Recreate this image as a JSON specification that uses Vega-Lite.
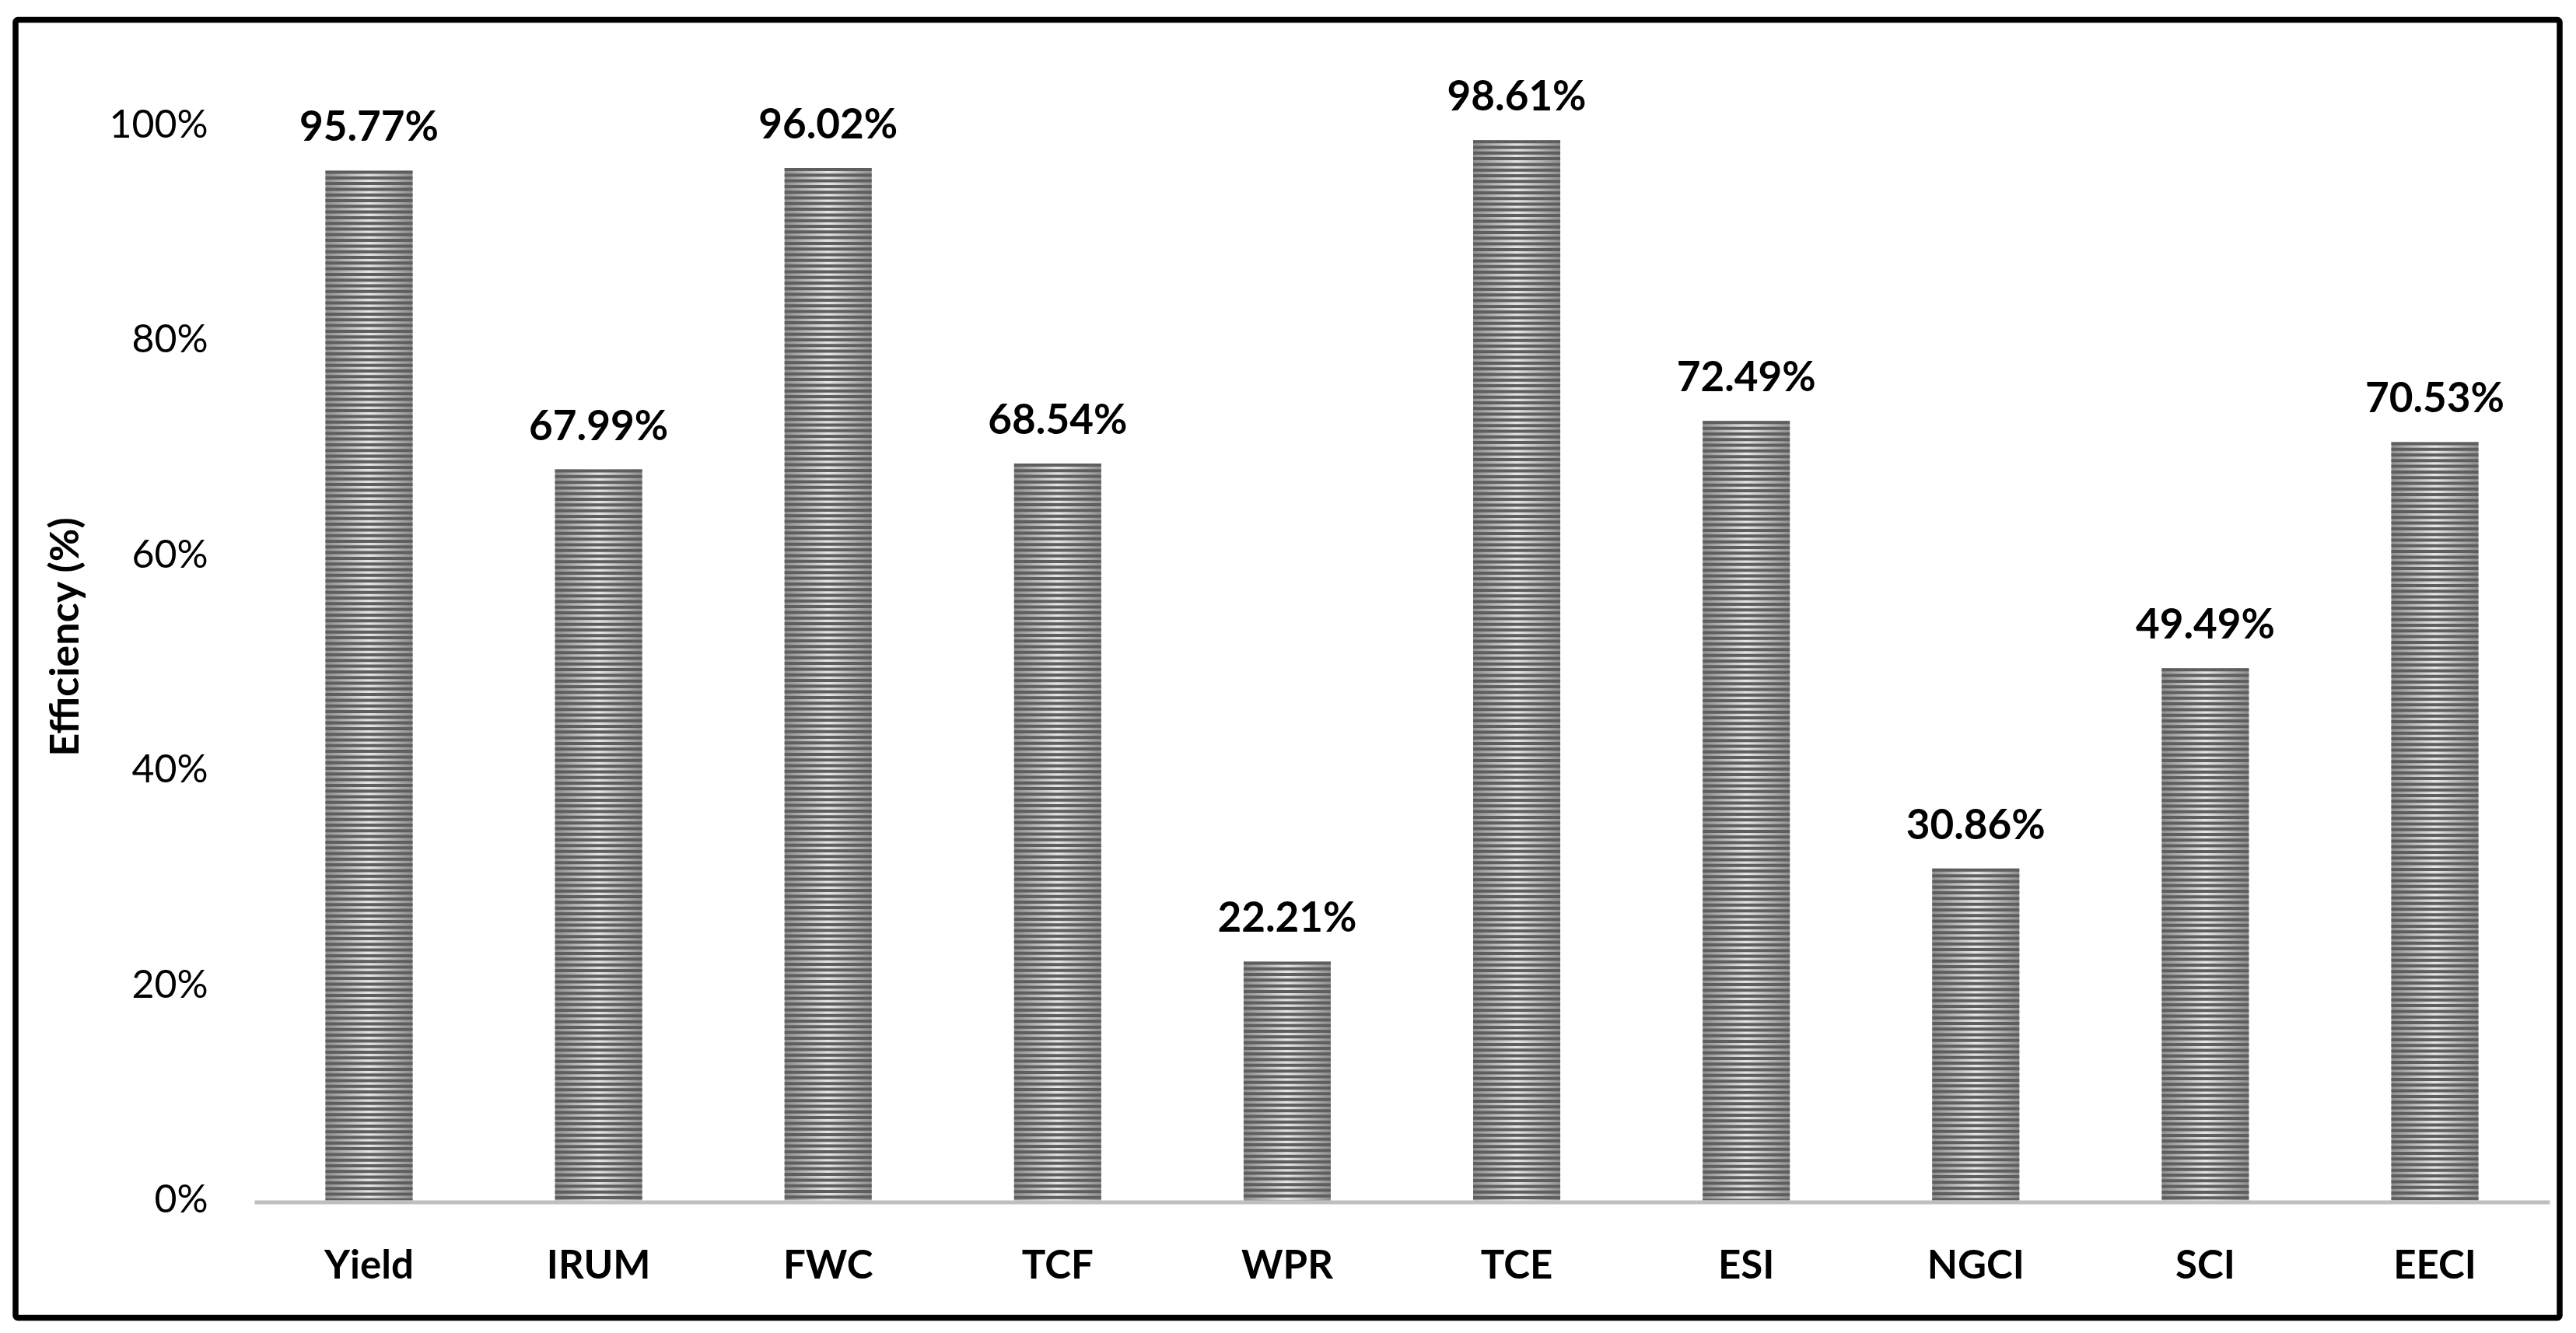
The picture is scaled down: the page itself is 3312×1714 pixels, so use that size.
{
  "$schema": "https://vega.github.io/schema/vega-lite/v6.json",
  "width": 3271,
  "height": 1669,
  "autosize": {"type": "none"},
  "padding": {"left": 20, "top": 25.5, "right": 21, "bottom": 19.5},
  "background": "white",
  "config": {
    "view": {"stroke": "#000000", "strokeWidth": 7.5, "cornerRadius": 3},
    "font": "Lato"
  },
  "data": {
    "values": [
      {"indicator": "Yield", "efficiency": 0.9577},
      {"indicator": "IRUM", "efficiency": 0.6799},
      {"indicator": "FWC", "efficiency": 0.9602},
      {"indicator": "TCF", "efficiency": 0.6854},
      {"indicator": "WPR", "efficiency": 0.2221},
      {"indicator": "TCE", "efficiency": 0.9861},
      {"indicator": "ESI", "efficiency": 0.7249},
      {"indicator": "NGCI", "efficiency": 0.3086},
      {"indicator": "SCI", "efficiency": 0.4949},
      {"indicator": "EECI", "efficiency": 0.7053}
    ]
  },
  "encoding": {
    "x": {
      "field": "indicator",
      "type": "nominal",
      "sort": null,
      "scale": {"range": [307, 3258], "paddingInner": 0.6205, "paddingOuter": 0.31},
      "axis": {
        "title": null,
        "orient": "bottom",
        "offset": -149,
        "zindex": 1,
        "domainColor": "#bfbfbf",
        "domainWidth": 5,
        "ticks": false,
        "tickSize": 0,
        "labelPadding": 98,
        "labelBaseline": "alphabetic",
        "labelFont": "Lato",
        "labelFontSize": 51,
        "labelFontWeight": "bold",
        "labelColor": "#000000",
        "labelAngle": 0,
        "labelOverlap": false,
        "grid": false
      }
    },
    "y": {
      "field": "efficiency",
      "type": "quantitative",
      "scale": {"domain": [0, 1], "range": [1518, 135.5], "nice": false},
      "axis": {
        "title": "Efficiency (%)",
        "values": [0, 0.2, 0.4, 0.6, 0.8, 1],
        "format": ".0%",
        "offset": -247,
        "domain": false,
        "ticks": false,
        "tickSize": 0,
        "labelPadding": 0,
        "grid": false,
        "labelFont": "Lato",
        "labelFontSize": 50,
        "labelColor": "#000000",
        "labelBaseline": "middle",
        "titleFont": "Lato",
        "titleFontSize": 52,
        "titleFontWeight": "bold",
        "titleColor": "#000000",
        "titleX": -167,
        "titleY": 793,
        "titleBaseline": "alphabetic",
        "titleAlign": "center",
        "titleAngle": -90
      }
    }
  },
  "layer": [
    {
      "mark": {
        "type": "bar",
        "fill": {
          "gradient": "linear",
          "x1": 0, "y1": 0, "x2": 1, "y2": 0,
          "stops": [
            {"offset": 0, "color": "#8e8e8e"},
            {"offset": 0.5, "color": "#e6e6e6"},
            {"offset": 1, "color": "#8e8e8e"}
          ]
        }
      }
    },
    {
      "mark": {
        "type": "rule",
        "stroke": "#5e5e5e",
        "strokeWidth": 112,
        "strokeDash": [4, 3.3],
        "strokeCap": "butt"
      },
      "encoding": {"y2": {"datum": 0}}
    },
    {
      "mark": {
        "type": "text",
        "baseline": "alphabetic",
        "align": "center",
        "dy": -38,
        "font": "Lato",
        "fontSize": 53,
        "fontWeight": "bold",
        "color": "#000000"
      },
      "encoding": {
        "text": {"field": "efficiency", "type": "quantitative", "format": ".2%"}
      }
    }
  ]
}
